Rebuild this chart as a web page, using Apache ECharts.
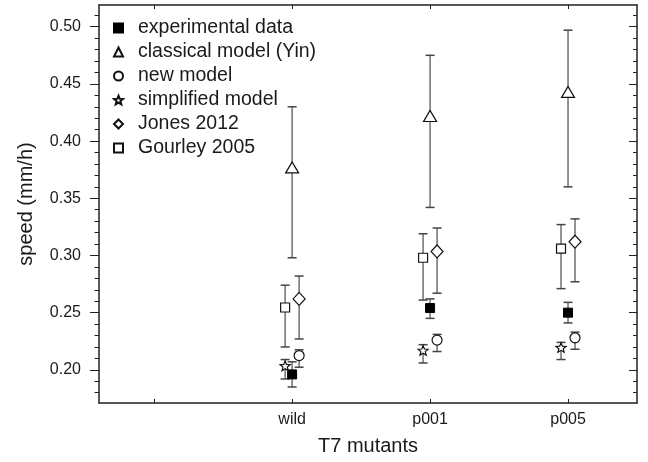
<!DOCTYPE html>
<html>
<head>
<meta charset="utf-8">
<script src="https://cdn.jsdelivr.net/npm/echarts@6/dist/echarts.min.js"></script>
<style>html,body{margin:0;padding:0;background:#fff}#c{width:648px;height:462px}</style>
</head>
<body>
<div id="c"></div>
<script>
const categories = ['wild', 'p001', 'p005'];
const yMajorTicks = [0.20, 0.25, 0.30, 0.35, 0.40, 0.45, 0.50];

const experimental = [0.196, 0.254, 0.250];
const experimentalLow = [0.185, 0.245, 0.241];
const experimentalHigh = [0.207, 0.262, 0.259];

const classical = [0.377, 0.422, 0.443];
const classicalLow = [0.298, 0.342, 0.360];
const classicalHigh = [0.430, 0.475, 0.497];

const newModel = [0.2125, 0.226, 0.228];
const newModelLow = [0.2023, 0.216, 0.218];
const newModelHigh = [0.2175, 0.231, 0.233];

const simplified = [0.2035, 0.217, 0.2195];
const simplifiedLow = [0.192, 0.206, 0.209];
const simplifiedHigh = [0.209, 0.222, 0.224];

const jones = [0.262, 0.3035, 0.312];
const jonesLow = [0.227, 0.267, 0.277];
const jonesHigh = [0.282, 0.324, 0.332];

const gourley = [0.2545, 0.298, 0.306];
const gourleyLow = [0.220, 0.261, 0.271];
const gourleyHigh = [0.274, 0.319, 0.327];

// layout / style constants
const OFF = 0.0507; // horizontal offset (in category units) of side markers
const STAR = 'path://M50 0 L62.94 32.2 L97.55 34.55 L70.92 56.8 L79.39 90.45 L50 72 L20.61 90.45 L29.08 56.8 L2.45 34.55 L37.06 32.2 Z';
const FONT = 'Liberation Sans, Arial, Helvetica, sans-serif';

const minorTicks = [];
for (let k = 18; k <= 51; k++) minorTicks.push(+(k / 100).toFixed(2));

function pts(vals, off) { return vals.map((v, i) => [i + 1 + off, v]); }
function bars(lo, hi, off) { return lo.map((v, i) => [i + 1 + off, v, hi[i]]); }

function errSeries(lo, hi, off) {
  return {
    type: 'custom', xAxisIndex: 0, yAxisIndex: 0, z: 2, silent: true,
    data: bars(lo, hi, off), encode: { x: 0, y: [1, 2] },
    renderItem: function (params, api) {
      const x = api.value(0);
      const a = api.coord([x, api.value(1)]);
      const b = api.coord([x, api.value(2)]);
      const w = 4.5;
      return {
        type: 'group', children: [
          { type: 'line', shape: { x1: a[0], y1: a[1], x2: b[0], y2: b[1] }, style: { stroke: '#707070', lineWidth: 1.5 } },
          { type: 'line', shape: { x1: a[0] - w, y1: a[1], x2: a[0] + w, y2: a[1] }, style: { stroke: '#444', lineWidth: 1.5 } },
          { type: 'line', shape: { x1: b[0] - w, y1: b[1], x2: b[0] + w, y2: b[1] }, style: { stroke: '#444', lineWidth: 1.5 } }
        ]
      };
    }
  };
}

function scat(name, vals, off, symbol, size, filled) {
  return {
    name: name, type: 'scatter', xAxisIndex: 0, yAxisIndex: 0, z: 4,
    symbol: symbol, symbolSize: size, symbolKeepAspect: true,
    data: pts(vals, off),
    itemStyle: filled ? { color: '#000', borderColor: '#000', borderWidth: 1, opacity: 1 }
                      : { color: '#fff', borderColor: '#111', borderWidth: 1.2, opacity: 1 },
    emphasis: { disabled: true }
  };
}

const chart = echarts.init(document.getElementById('c'), null, { renderer: 'canvas' });
const axisLineStyle = { color: '#222', width: 1.5 };
chart.setOption({
  animation: false,
  backgroundColor: '#fff',
  textStyle: { fontFamily: FONT },
  grid: { left: 99, right: 11, top: 5, bottom: 59 },
  legend: {
    orient: 'vertical', left: 108, top: 13,
    itemWidth: 9, itemHeight: 9, itemGap: 4,
    textStyle: { fontSize: 19.5, color: '#1a1a1a', lineHeight: 20, fontFamily: FONT, padding: [0, 0, 0, 10] },
    selectedMode: false,
    data: ['experimental data', 'classical model (Yin)', 'new model', 'simplified model', 'Jones 2012', 'Gourley 2005']
  },
  xAxis: [
    {
      type: 'value', position: 'bottom', min: -0.4, max: 3.5,
      name: 'T7 mutants', nameLocation: 'middle', nameGap: 33,
      nameTextStyle: { fontSize: 20, color: '#1a1a1a', fontFamily: FONT },
      axisLine: { show: true, onZero: false, lineStyle: axisLineStyle },
      axisTick: { show: true, inside: true, length: 4, customValues: [0, 1, 2, 3], lineStyle: { color: '#222' } },
      axisLabel: { show: true, customValues: [1, 2, 3], margin: 9, fontSize: 16, color: '#1a1a1a', fontFamily: FONT,
        formatter: v => categories[Math.round(v) - 1] || '' },
      splitLine: { show: false }
    },
    {
      type: 'value', position: 'top', min: -0.4, max: 3.5,
      axisLine: { show: true, onZero: false, lineStyle: axisLineStyle },
      axisTick: { show: true, inside: true, length: 4, customValues: [0, 1, 2, 3], lineStyle: { color: '#222' } },
      axisLabel: { show: false },
      splitLine: { show: false }
    }
  ],
  yAxis: [
    {
      type: 'value', position: 'left', min: 0.171, max: 0.519,
      name: 'speed (mm/h)', nameLocation: 'middle', nameGap: 63,
      nameTextStyle: { fontSize: 20, color: '#1a1a1a', fontFamily: FONT },
      axisLine: { show: true, onZero: false, lineStyle: axisLineStyle },
      axisTick: { show: true, inside: false, length: 9, customValues: yMajorTicks, lineStyle: { color: '#222' } },
      axisLabel: { show: true, customValues: yMajorTicks, margin: 18, fontSize: 16, color: '#1a1a1a', fontFamily: FONT,
        formatter: v => v.toFixed(2) },
      splitLine: { show: false }
    },
    {
      type: 'value', position: 'left', min: 0.171, max: 0.519,
      axisLine: { show: false, onZero: false },
      axisTick: { show: true, inside: false, length: 4.5, customValues: minorTicks, lineStyle: { color: '#222' } },
      axisLabel: { show: false }, splitLine: { show: false }
    },
    {
      type: 'value', position: 'right', min: 0.171, max: 0.519,
      axisLine: { show: true, onZero: false, lineStyle: axisLineStyle },
      axisTick: { show: true, inside: true, length: 8, customValues: yMajorTicks, lineStyle: { color: '#222' } },
      axisLabel: { show: false }, splitLine: { show: false }
    },
    {
      type: 'value', position: 'right', min: 0.171, max: 0.519,
      axisLine: { show: false, onZero: false },
      axisTick: { show: true, inside: true, length: 4, customValues: minorTicks, lineStyle: { color: '#222' } },
      axisLabel: { show: false }, splitLine: { show: false }
    }
  ],
  series: [
    errSeries(classicalLow, classicalHigh, 0),
    errSeries(experimentalLow, experimentalHigh, 0),
    errSeries(gourleyLow, gourleyHigh, -OFF),
    errSeries(simplifiedLow, simplifiedHigh, -OFF),
    errSeries(jonesLow, jonesHigh, OFF),
    errSeries(newModelLow, newModelHigh, OFF),
    scat('experimental data', experimental, 0, 'rect', 9, true),
    scat('classical model (Yin)', classical, 0, 'triangle', [13, 11], false),
    scat('new model', newModel, OFF, 'circle', 10, false),
    scat('simplified model', simplified, -OFF, STAR, 10, false),
    scat('Jones 2012', jones, OFF, 'diamond', [12, 13], false),
    scat('Gourley 2005', gourley, -OFF, 'rect', 9, false)
  ]
});
</script>
</body>
</html>
